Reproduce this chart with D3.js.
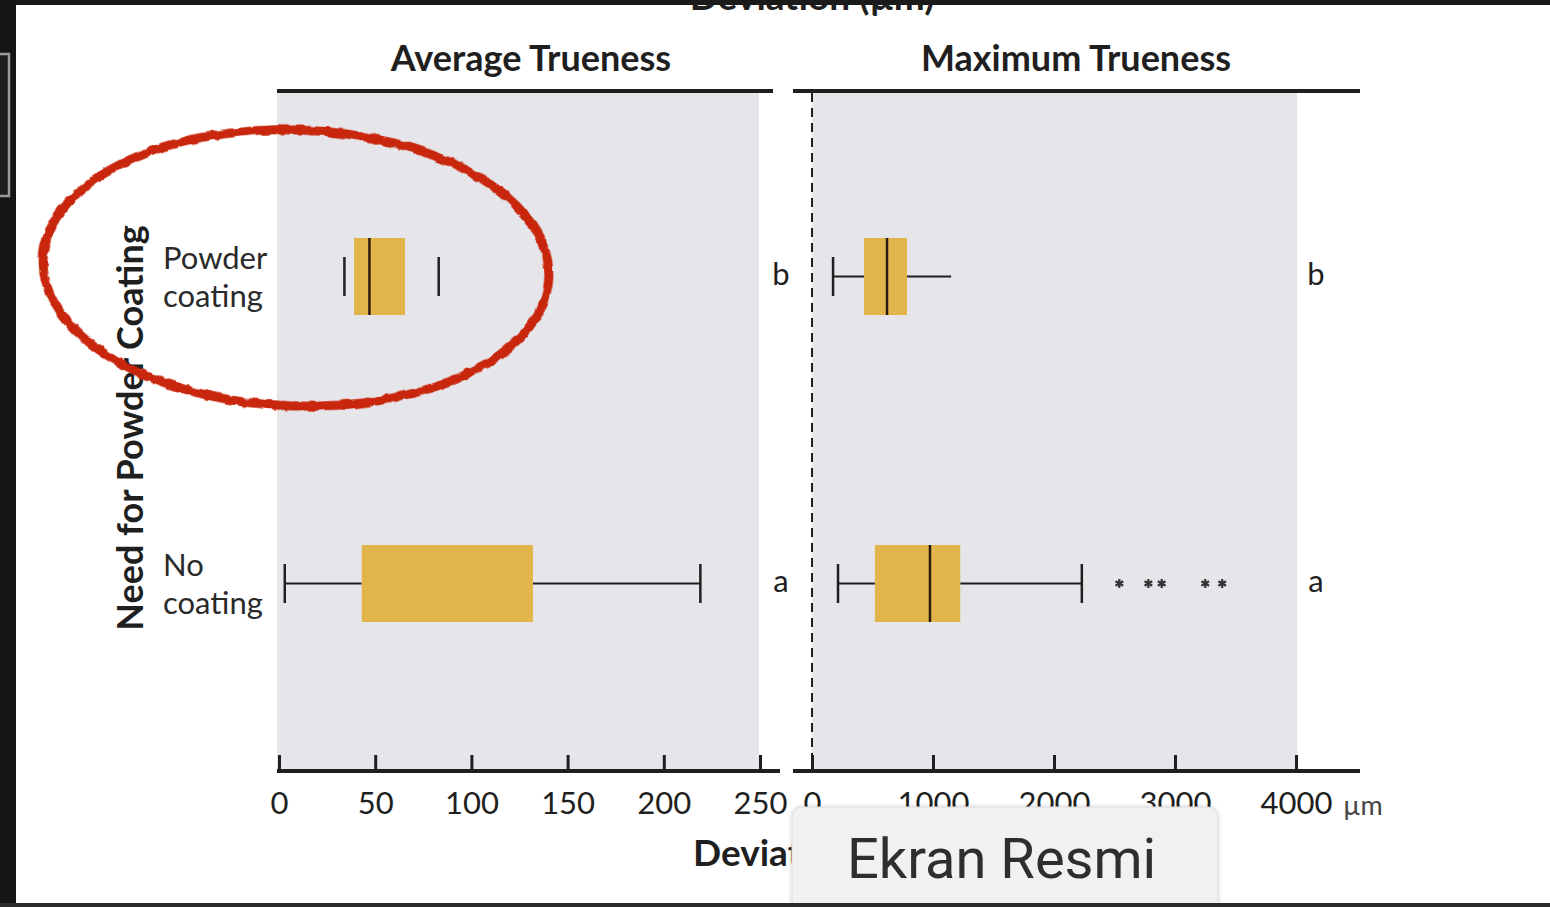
<!DOCTYPE html>
<html>
<head>
<meta charset="utf-8">
<script src="https://cdn.jsdelivr.net/npm/d3@7"></script>
<style>
  html, body { margin: 0; padding: 0; background: #ffffff; }
  svg { display: block; }
</style>
</head>
<body>
<svg id="chart" width="1550" height="907"></svg>
<script>
// ---- data ----
const categories = ["Powder coating", "No coating"];
const categoryLines = [["Powder", "coating"], ["No", "coating"]];

// Average trueness (µm): five-number summaries per category
const avgMin    = [34, 3];
const avgQ1     = [39, 43];
const avgMedian = [47, null];
const avgQ3     = [65.5, 132];
const avgMax    = [83, 219];
const avgLetters = ["b", "a"];

// Maximum trueness (µm)
const maxMin    = [174, 215];
const maxQ1     = [430, 520];
const maxMedian = [620, 975];
const maxQ3     = [785, 1225];
const maxMax    = [1150, 2230];
const maxOutliers = [[], [2540, 2780, 2890, 3250, 3390]];
const maxLetters = ["b", "a"];

const avgTicks = [0, 50, 100, 150, 200, 250];
const maxTicks = [0, 1000, 2000, 3000, 4000];

const panelTitles = ["Average Trueness", "Maximum Trueness"];
const axisTitle = "Deviation (µm)";
const yTitle = "Need for Powder Coating";
const unitLabel = "µm";
const overlayLabel = "Ekran Resmi";

// ---- drawing ----
const svg = d3.select("#chart");
const FONT = "Lato, 'Open Sans', sans-serif";
const INK = "#1f1f1f";
const BOX = "#E2B54C";
const PANEL_BG = "#E6E6EA";

const defs = svg.append("defs");
const rough = defs.append("filter").attr("id", "rough")
  .attr("x", "-10%").attr("y", "-10%").attr("width", "120%").attr("height", "120%");
rough.append("feTurbulence").attr("type", "fractalNoise").attr("baseFrequency", 0.09)
  .attr("numOctaves", 2).attr("seed", 3).attr("result", "noise");
rough.append("feDisplacementMap").attr("in", "SourceGraphic").attr("in2", "noise")
  .attr("scale", 5).attr("xChannelSelector", "R").attr("yChannelSelector", "G");
const shadow = defs.append("filter").attr("id", "shadow")
  .attr("x", "-10%").attr("y", "-20%").attr("width", "120%").attr("height", "140%");
shadow.append("feDropShadow").attr("dx", 0).attr("dy", 0).attr("stdDeviation", 2)
  .attr("flood-color", "#000").attr("flood-opacity", 0.18);
// visible window for the lower axis title (the label box sits over the rest)
defs.append("clipPath").attr("id", "clipBottomTitle")
  .append("rect").attr("x", 600).attr("y", 820).attr("width", 192).attr("height", 70);
defs.append("clipPath").attr("id", "clipTopTitle")
  .append("rect").attr("x", 600).attr("y", 5).attr("width", 420).attr("height", 20);

const xAvg = d3.scaleLinear().domain([0, 250]).range([279, 760]);
const xMax = d3.scaleLinear().domain([0, 4000]).range([812, 1296]);
const y = d3.scalePoint().domain(categories).range([276.5, 583.5]);

const plotTop = 93, plotBottom = 771;
const boxHalf = 38.5, capHalf = 19.5;

// panel backgrounds
svg.append("rect").attr("x", xAvg(0) - 2).attr("y", plotTop)
  .attr("width", xAvg(250) - xAvg(0) + 1).attr("height", plotBottom - plotTop).attr("fill", PANEL_BG);
svg.append("rect").attr("x", xMax(0)).attr("y", plotTop)
  .attr("width", xMax(4000) - xMax(0) + 1).attr("height", plotBottom - plotTop).attr("fill", PANEL_BG);

// top frame lines
svg.append("line").attr("x1", 277).attr("x2", 773).attr("y1", 91).attr("y2", 91)
  .attr("stroke", INK).attr("stroke-width", 4);
svg.append("line").attr("x1", 793).attr("x2", 1360).attr("y1", 91).attr("y2", 91)
  .attr("stroke", INK).attr("stroke-width", 4);

// zero reference in the maximum panel
svg.append("line").attr("x1", xMax(0)).attr("x2", xMax(0)).attr("y1", plotTop).attr("y2", plotBottom)
  .attr("stroke", INK).attr("stroke-width", 2).attr("stroke-dasharray", "9,6");

// bottom axes
function drawAxis(scale, ticks, x1, x2) {
  const g = svg.append("g").attr("transform", `translate(0,${plotBottom})`)
    .call(d3.axisBottom(scale).tickValues(ticks).tickFormat(d3.format("d"))
      .tickSizeInner(-16).tickSizeOuter(0).tickPadding(21));
  g.select(".domain").remove();
  g.selectAll(".tick line").attr("stroke", INK).attr("stroke-width", 3);
  g.selectAll(".tick text").attr("fill", INK).style("font-family", FONT)
    .style("font-size", "31px");
  g.append("line").attr("x1", x1).attr("x2", x2).attr("y1", 0).attr("y2", 0)
    .attr("stroke", INK).attr("stroke-width", 4);
}
drawAxis(xAvg, avgTicks, 277, 780);
drawAxis(xMax, maxTicks, 793, 1360);
svg.append("text").attr("x", 1343).attr("y", 815).attr("fill", "#444")
  .style("font-family", FONT).style("font-size", "27px").text(unitLabel);

// box plots
function drawBoxes(scale, mins, q1s, meds, q3s, maxs, stems, rightCaps) {
  categories.forEach((c, i) => {
    const cy = y(c);
    const g = svg.append("g");
    if (stems[i]) {
      g.append("line").attr("x1", scale(mins[i])).attr("x2", scale(q1s[i]))
        .attr("y1", cy).attr("y2", cy).attr("stroke", INK).attr("stroke-width", 2);
      g.append("line").attr("x1", scale(q3s[i])).attr("x2", scale(maxs[i]))
        .attr("y1", cy).attr("y2", cy).attr("stroke", INK).attr("stroke-width", 2);
    }
    g.append("line").attr("x1", scale(mins[i])).attr("x2", scale(mins[i]))
      .attr("y1", cy - capHalf).attr("y2", cy + capHalf).attr("stroke", INK).attr("stroke-width", 2.5);
    if (rightCaps[i]) {
      g.append("line").attr("x1", scale(maxs[i])).attr("x2", scale(maxs[i]))
        .attr("y1", cy - capHalf).attr("y2", cy + capHalf).attr("stroke", INK).attr("stroke-width", 2.5);
    }
    g.append("rect").attr("x", scale(q1s[i])).attr("y", cy - boxHalf)
      .attr("width", scale(q3s[i]) - scale(q1s[i])).attr("height", boxHalf * 2).attr("fill", BOX);
    if (meds[i] != null) {
      g.append("line").attr("x1", scale(meds[i])).attr("x2", scale(meds[i]))
        .attr("y1", cy - boxHalf).attr("y2", cy + boxHalf).attr("stroke", "#2a1a10").attr("stroke-width", 2.5);
    }
  });
}
drawBoxes(xAvg, avgMin, avgQ1, avgMedian, avgQ3, avgMax, [false, true], [true, true]);
drawBoxes(xMax, maxMin, maxQ1, maxMedian, maxQ3, maxMax, [true, true], [false, true]);

// outliers
const star = d3.symbol().type(d3.symbolAsterisk).size(55);
categories.forEach((c, i) => {
  svg.selectAll(null).data(maxOutliers[i]).join("path")
    .attr("transform", d => `translate(${xMax(d)},${y(c)})`)
    .attr("d", star).attr("fill", "none").attr("stroke", "#333").attr("stroke-width", 2.2);
});

// significance letters
categories.forEach((c, i) => {
  svg.append("text").attr("x", 781).attr("y", y(c) + 8).attr("text-anchor", "middle")
    .attr("fill", INK).style("font-family", FONT).style("font-size", "31px").text(avgLetters[i]);
  svg.append("text").attr("x", 1316).attr("y", y(c) + 8).attr("text-anchor", "middle")
    .attr("fill", INK).style("font-family", FONT).style("font-size", "31px").text(maxLetters[i]);
});

// category labels
categories.forEach((c, i) => {
  const t = svg.append("text").attr("x", 163).attr("y", y(c) - 8)
    .attr("fill", "#2a2a2a").style("font-family", FONT).style("font-size", "31px");
  categoryLines[i].forEach((ln, k) => {
    t.append("tspan").attr("x", 163).attr("dy", k === 0 ? 0 : 38).text(ln);
  });
});

// y title
svg.append("text").attr("transform", "translate(143,428) rotate(-90)").attr("text-anchor", "middle")
  .attr("fill", INK).style("font-family", FONT).style("font-size", "36px").style("font-weight", 700)
  .text(yTitle);

// panel titles
svg.append("text").attr("x", 531).attr("y", 71).attr("text-anchor", "middle").attr("fill", INK)
  .style("font-family", FONT).style("font-size", "36px").style("font-weight", 700).text(panelTitles[0]);
svg.append("text").attr("x", 1076).attr("y", 71).attr("text-anchor", "middle").attr("fill", INK)
  .style("font-family", FONT).style("font-size", "36px").style("font-weight", 700).text(panelTitles[1]);

// axis titles (top and bottom)
svg.append("text").attr("x", 812).attr("y", 10).attr("text-anchor", "middle").attr("fill", INK)
  .attr("clip-path", "url(#clipTopTitle)")
  .style("font-family", FONT).style("font-size", "37px").style("font-weight", 700).text(axisTitle);
svg.append("text").attr("x", 693).attr("y", 866).attr("fill", INK)
  .attr("clip-path", "url(#clipBottomTitle)")
  .style("font-family", FONT).style("font-size", "37px").style("font-weight", 700).text(axisTitle);

// red hand-drawn ellipse highlight
svg.append("ellipse").attr("cx", 296).attr("cy", 268).attr("rx", 253).attr("ry", 138)
  .attr("transform", "rotate(2,296,268)")
  .attr("fill", "none").attr("stroke", "#C8280F").attr("stroke-width", 9).attr("filter", "url(#rough)");

// tooltip-style label box
svg.append("rect").attr("x", 792).attr("y", 807).attr("width", 426).attr("height", 112).attr("rx", 10)
  .attr("fill", "#F1F1F1").attr("stroke", "#DCDCDC").attr("filter", "url(#shadow)");
svg.append("text").attr("x", 847).attr("y", 878).attr("fill", "#2e2e2e")
  .style("font-family", "Roboto, Inter, sans-serif").style("font-size", "56px").text(overlayLabel);

// surrounding window frame
svg.append("rect").attr("x", 0).attr("y", 0).attr("width", 1550).attr("height", 5).attr("fill", "#1a1a1a");
svg.append("rect").attr("x", 0).attr("y", 0).attr("width", 16).attr("height", 907).attr("fill", "#151515");
svg.append("rect").attr("x", 0).attr("y", 903).attr("width", 1550).attr("height", 4).attr("fill", "#2a2a2a");
svg.append("rect").attr("x", -2).attr("y", 54).attr("width", 11).attr("height", 142)
  .attr("fill", "#1e1e1e").attr("stroke", "#9a9a9a").attr("stroke-width", 2.5);
</script>
</body>
</html>
